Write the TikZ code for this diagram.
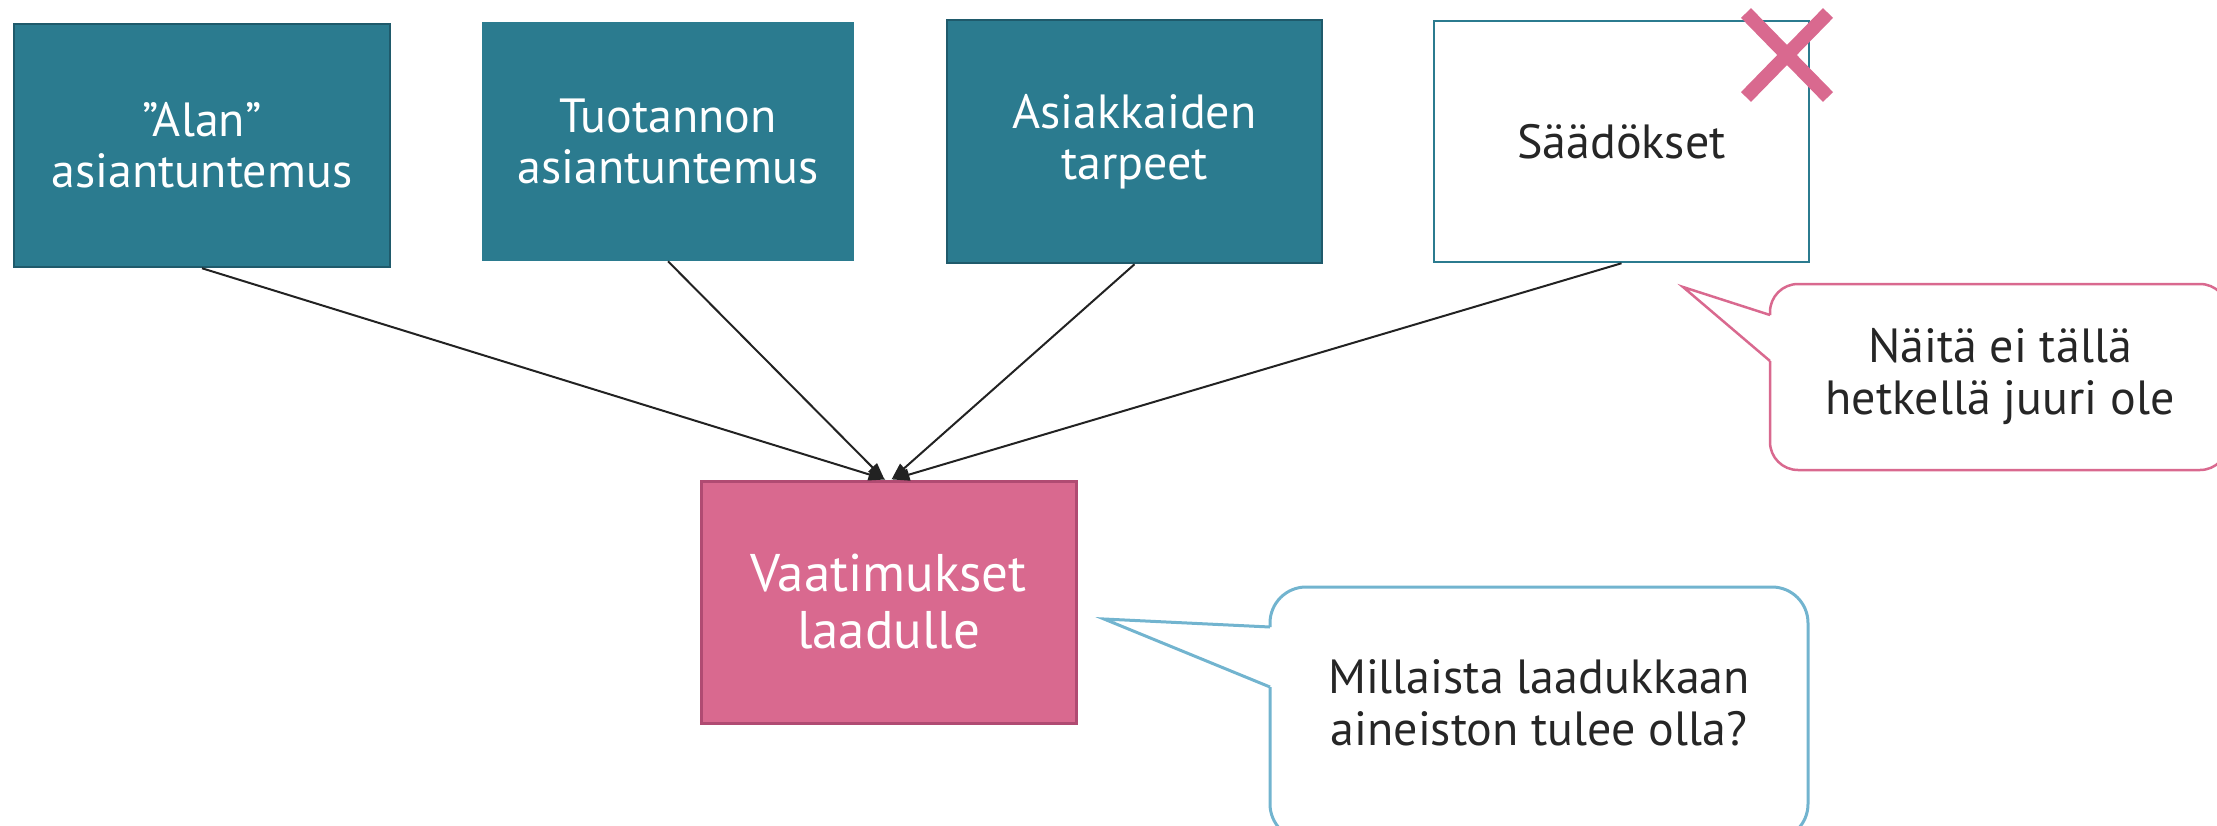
\documentclass[tikz,border=0pt]{standalone}
\usepackage{fontspec}
\setmainfont{PT Sans}
\usetikzlibrary{arrows.meta}
\definecolor{tealf}{HTML}{2B7B8F}
\definecolor{tealb}{HTML}{1F5A6B}
\definecolor{pinkf}{HTML}{D9698F}
\definecolor{pinkb}{HTML}{B04B72}
\definecolor{bluec}{HTML}{72B4CF}
\definecolor{txt}{HTML}{262626}
\definecolor{arrc}{HTML}{222222}
\begin{document}
\begin{tikzpicture}[x=1pt,y=-1pt,
  box/.style={rectangle, inner sep=0pt, align=center, font=\fontsize{48}{51}\selectfont},
  tbox/.style={box, fill=tealf, draw=tealb, line width=2.5pt, text=white},
  wbox/.style={box, fill=white, draw=tealf, line width=2.5pt, text=txt},
  pbox/.style={box, fill=pinkf, draw=pinkb, line width=3pt, text=white, font=\fontsize{53}{57}\selectfont},
  conn/.style={draw=arrc, line width=2pt, -{Triangle[length=17pt,width=12pt]}},
  ctext/.style={align=center, inner sep=0pt, text=txt, font=\fontsize{48}{52}\selectfont},
  call1/.style={draw=pinkf, line width=2.5pt},
  call2/.style={draw=bluec, line width=3pt},
  cross/.style={draw=pinkf, line width=14pt}
]
\useasboundingbox (0,0) rectangle (2217,825);
\clip (0,0) rectangle (2217,825);

% top boxes
\node[tbox, minimum width=376pt, minimum height=243pt] (b1) at (202,145.5) {”Alan”\\asiantuntemus};
\node[tbox, draw=tealf, minimum width=370pt, minimum height=237pt] (b2) at (668,141.5) {Tuotannon\\asiantuntemus};
\node[tbox, minimum width=375pt, minimum height=243pt] (b3) at (1134.5,141.5) {Asiakkaiden\\tarpeet};
\node[wbox, minimum width=375pt, minimum height=241pt] (b4) at (1621.5,141.5) {Säädökset};

% target box
\node[pbox, minimum width=375pt, minimum height=242pt] (pk) at (888.5,602) {Vaatimukset\\laadulle};

% connectors
\draw[conn] (b1.south) -- ([xshift=-3pt]pk.north);
\draw[conn] (b2.south) -- ([xshift=-4pt]pk.north);
\draw[conn] (b3.south) -- ([xshift=3pt]pk.north);
\draw[conn] (b4.south) -- ([xshift=4pt]pk.north);

% cross mark
\draw[cross] (1746,13) -- (1828,97);
\draw[cross] (1828,13) -- (1746,97);

% callout 1
\draw[call1, rounded corners=28pt] (1770,315) -- (1770,284) -- (2228,284) -- (2228,470) -- (1770,470) -- (1770,361);
\draw[call1, line join=miter] (1770,315) -- (1683,287) -- (1770,361);
\node[ctext] (c1t) at (2000,377) {Näitä ei tällä\\hetkellä juuri ole};

% callout 2
\draw[call2, rounded corners=36pt] (1270,627) -- (1270,587) -- (1808,587) -- (1808,840) -- (1270,840) -- (1270,687);
\draw[call2, line join=miter] (1270,627) -- (1104,619) -- (1270,687);
\node[ctext] (c2t) at (1539,703) {Millaista laadukkaan\\aineiston tulee olla?};
\end{tikzpicture}
\end{document}
